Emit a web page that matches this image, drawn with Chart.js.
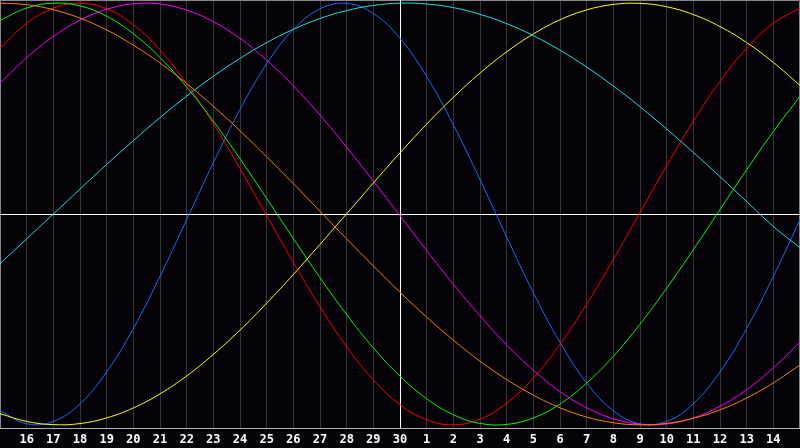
<!DOCTYPE html>
<html>
<head>
<meta charset="utf-8">
<script src="https://cdn.jsdelivr.net/npm/chart.js@4"></script>
<style>
html,body{margin:0;padding:0;background:#050308;}
#wrap{width:800px;height:448px;}
</style>
</head>
<body>
<div id="wrap"><canvas id="c" width="800" height="448"></canvas></div>
<script>
// days relative to "today" (30) : -15 .. 15
const dayOffsets = [-15,-14,-13,-12,-11,-10,-9,-8,-7,-6,-5,-4,-3,-2,-1,0,1,2,3,4,5,6,7,8,9,10,11,12,13,14,15];
const dayLabels = ['15','16','17','18','19','20','21','22','23','24','25','26','27','28','29','30','1','2','3','4','5','6','7','8','9','10','11','12','13','14','15'];
const blueVals   = [-0.933,-0.995,-0.984,-0.900,-0.749,-0.543,-0.296,-0.027,0.243,0.496,0.712,0.875,0.973,0.999,0.951,0.833,0.652,0.423,0.163,-0.109,-0.373,-0.609,-0.801,-0.933,-0.995,-0.984,-0.900,-0.749,-0.543,-0.296,-0.027];
const redVals    = [0.786,0.904,0.976,1.000,0.973,0.898,0.778,0.618,0.428,0.216,-0.007,-0.229,-0.440,-0.629,-0.786,-0.904,-0.976,-1.000,-0.973,-0.898,-0.778,-0.618,-0.428,-0.216,0.007,0.229,0.440,0.629,0.786,0.904,0.976];
const greenVals  = [0.918,0.977,1.000,0.987,0.938,0.855,0.742,0.602,0.440,0.262,0.074,-0.116,-0.302,-0.477,-0.635,-0.769,-0.876,-0.952,-0.993,-0.998,-0.967,-0.901,-0.802,-0.675,-0.523,-0.352,-0.169,0.021,0.210,0.391,0.558];
const magentaVals= [0.621,0.741,0.842,0.919,0.971,0.997,0.996,0.967,0.912,0.833,0.730,0.608,0.469,0.317,0.156,-0.008,-0.173,-0.333,-0.483,-0.621,-0.741,-0.842,-0.919,-0.971,-0.997,-0.996,-0.967,-0.912,-0.833,-0.730,-0.608];
const yellowVals = [-0.947,-0.984,-0.999,-0.994,-0.967,-0.920,-0.853,-0.768,-0.666,-0.551,-0.423,-0.287,-0.144,0.001,0.147,0.290,0.426,0.553,0.668,0.769,0.854,0.921,0.968,0.994,0.999,0.983,0.946,0.889,0.813,0.719,0.610];
const orangeVals = [1.000,0.993,0.969,0.929,0.873,0.801,0.716,0.619,0.511,0.395,0.271,0.144,0.013,-0.118,-0.246,-0.371,-0.489,-0.598,-0.698,-0.785,-0.859,-0.919,-0.963,-0.990,-1.000,-0.993,-0.969,-0.929,-0.873,-0.801,-0.716];
const cyanVals   = [-0.235,-0.118,0.000,0.118,0.235,0.348,0.457,0.559,0.653,0.738,0.813,0.876,0.927,0.965,0.989,1.000,0.996,0.979,0.947,0.903,0.846,0.777,0.697,0.607,0.509,0.403,0.292,0.177,0.059,-0.059,-0.160];

function series(vals){ return dayOffsets.map((d,i)=>({x:d,y:vals[i]})); }
function ds(vals,color){
  return {data:series(vals),borderColor:color,borderWidth:1,pointRadius:0,pointHoverRadius:0,pointHitRadius:0,tension:0.4,fill:false};
}

const framePlugin = {
  id:'frame',
  beforeDatasetsDraw(chart){
    const {ctx,chartArea:a,scales:{x,y}} = chart;
    ctx.save();
    ctx.lineWidth = 1;
    ctx.strokeStyle = '#8a8a8a';
    ctx.beginPath();
    ctx.moveTo(a.left+0.5,a.bottom); ctx.lineTo(a.left+0.5,a.top+0.5);
    ctx.lineTo(a.right-0.5,a.top+0.5); ctx.lineTo(a.right-0.5,a.bottom);
    ctx.stroke();
    ctx.strokeStyle = '#b0b0b0';
    ctx.beginPath();
    ctx.moveTo(a.left,a.bottom+0.5); ctx.lineTo(a.right,a.bottom+0.5);
    ctx.stroke();
    ctx.strokeStyle = '#ffffff';
    const y0 = Math.round(y.getPixelForValue(0))+0.5;
    const x0 = Math.round(x.getPixelForValue(0))+0.5;
    ctx.beginPath();
    ctx.moveTo(a.left,y0); ctx.lineTo(a.right,y0);
    ctx.moveTo(x0,a.top); ctx.lineTo(x0,a.bottom);
    ctx.stroke();
    ctx.restore();
  }
};

new Chart(document.getElementById('c'),{
  type:'line',
  data:{datasets:[
    ds(cyanVals,'#1ee0e0'),
    ds(yellowVals,'#ffff00'),
    ds(orangeVals,'#ff8000'),
    ds(magentaVals,'#ff00ff'),
    ds(greenVals,'#00ff00'),
    ds(redVals,'#ff0000'),
    ds(blueVals,'#1a6cff')
  ]},
  options:{
    responsive:false,
    animation:false,
    events:[],
    layout:{padding:0,autoPadding:false},
    plugins:{legend:{display:false},tooltip:{enabled:false}},
    scales:{
      x:{
        type:'linear',min:-15,max:15,
        border:{display:false},
        grid:{color:'#353535',lineWidth:1,drawTicks:false},
        afterFit:(s)=>{ s.paddingLeft=0; s.paddingRight=0; s.paddingTop=0; s.paddingBottom=0; s.height=20; },
        ticks:{
          stepSize:1,autoSkip:false,maxRotation:0,padding:5,
          color:'#ffffff',
          font:{family:'DejaVu Sans Mono',size:12,weight:'bold'},
          callback:(v)=>{ const i=dayOffsets.indexOf(v); return (i<=0||i>=dayOffsets.length-1)?'':dayLabels[i]; }
        }
      },
      y:{
        min:-1.015,max:1.015,
        display:false
      }
    }
  },
  plugins:[framePlugin]
});
</script>
</body>
</html>
